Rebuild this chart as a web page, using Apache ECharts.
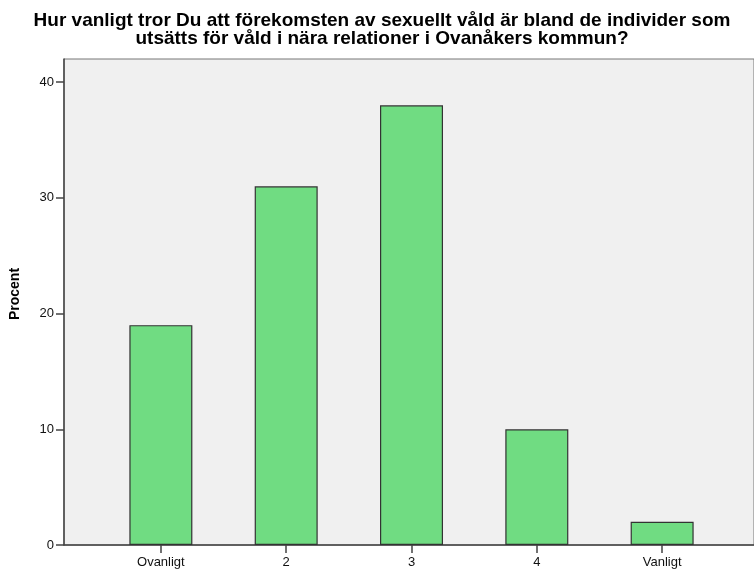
<!DOCTYPE html>
<html>
<head>
<meta charset="utf-8">
<script src="https://cdn.jsdelivr.net/npm/echarts@6/dist/echarts.min.js"></script>
<style>
html, body { margin: 0; padding: 0; background: #fff; }
#main { width: 754px; height: 570px; }
</style>
</head>
<body>
<div id="main"></div>
<script>
var categories = ['Ovanligt', '2', '3', '4', 'Vanligt'];
var percent = [19, 31, 38, 10, 2];
var yTicks = [0, 10, 20, 30, 40];

var myChart = echarts.init(document.getElementById('main'));

var barData = percent.map(function (v, i) { return [i, v]; });
var positions = categories.map(function (c, i) { return i; });

var option = {
	animation: false,
	title: {
		text: 'Hur vanligt tror Du att förekomsten av sexuellt våld är bland de individer som\nutsätts för våld i nära relationer i Ovanåkers kommun?',
		left: 377,
		top: 7,
		textAlign: 'center',
		textStyle: {
			fontFamily: 'Liberation Sans, Arial',
			fontSize: 19,
			fontWeight: 'bold',
			color: '#000',
			lineHeight: 18,
			align: 'center'
		}
	},
	grid: {
		left: 63,
		right: -1,
		top: 59,
		bottom: 25,
		show: true,
		backgroundColor: '#F0F0F0',
		borderColor: '#777',
		borderWidth: 1
	},
	xAxis: {
		type: 'value',
		min: -0.773,
		max: 4.733,
		splitLine: { show: false },
		axisLine: { show: true, onZero: false, lineStyle: { color: '#444', width: 1.5 } },
		axisTick: { show: true, customValues: positions, length: 8, lineStyle: { color: '#444', width: 1.5 } },
		axisLabel: {
			customValues: positions,
			margin: 11,
			fontFamily: 'Liberation Sans, Arial',
			fontSize: 13,
			color: '#111',
			formatter: function (v) { return categories[Math.round(v)]; }
		}
	},
	yAxis: {
		type: 'value',
		min: 0,
		max: 42,
		name: 'Procent',
		nameLocation: 'middle',
		nameGap: 42,
		nameRotate: 90,
		nameTextStyle: {
			fontFamily: 'Liberation Sans, Arial',
			fontSize: 14,
			fontWeight: 'bold',
			color: '#000',
			padding: [0, 0, 0, 16]
		},
		splitLine: { show: false },
		axisLine: { show: true, onZero: false, lineStyle: { color: '#444', width: 1.5 } },
		axisTick: { show: true, customValues: yTicks, length: 8, lineStyle: { color: '#444', width: 1.5 } },
		axisLabel: {
			customValues: yTicks,
			margin: 10,
			fontFamily: 'Liberation Sans, Arial',
			fontSize: 13,
			color: '#111'
		}
	},
	series: [{
		type: 'bar',
		barWidth: 63,
		data: barData,
		itemStyle: {
			color: '#70DC82',
			borderColor: '#333',
			borderWidth: 1.2
		}
	}]
};
myChart.setOption(option);
</script>
</body>
</html>
